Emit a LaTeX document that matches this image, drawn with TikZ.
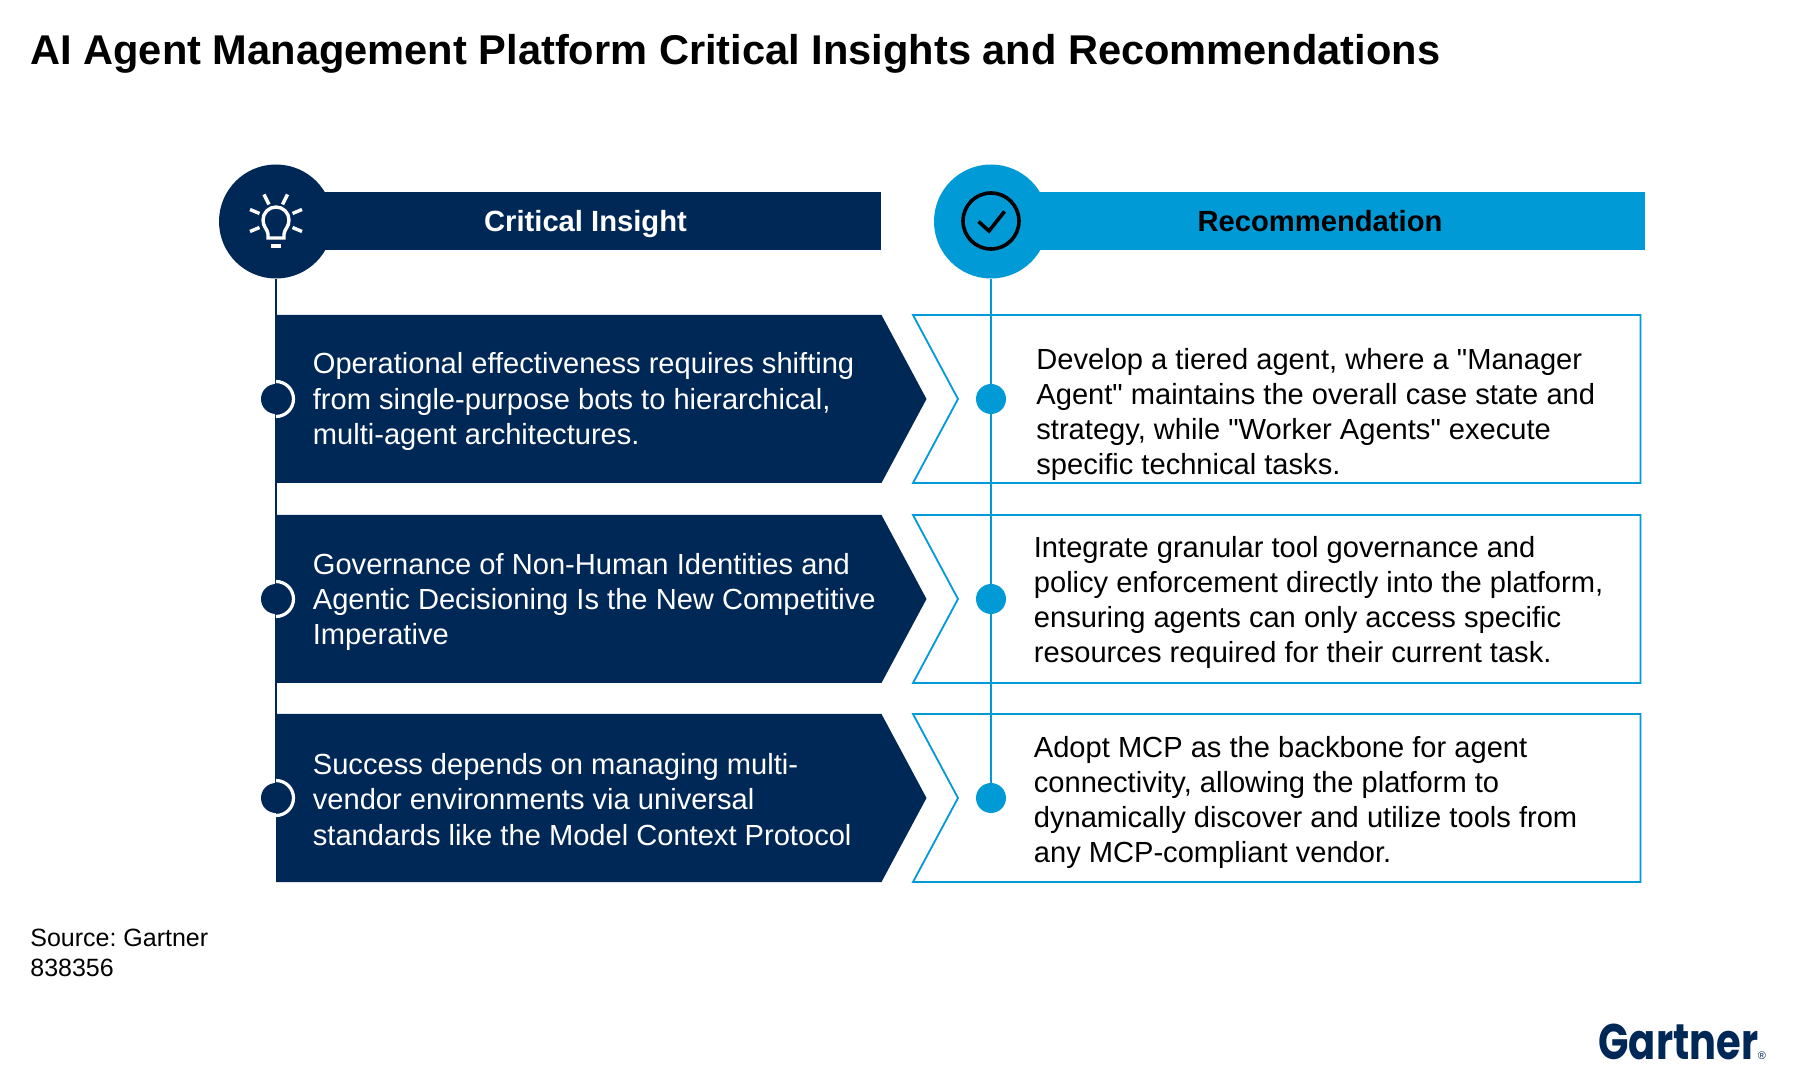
\documentclass[tikz,border=0pt]{standalone}
\usepackage{fontspec}
\setmainfont{Liberation Sans}[Ligatures=TeXOff]
\newfontfamily\logofont{Poppins}[FakeStretch=0.8]
\definecolor{navy}{HTML}{002856}
\definecolor{sky}{HTML}{009AD7}
\tikzset{
  bodytext/.style={anchor=west,align=left,inner sep=0pt,font=\fontsize{14.55pt}{17.6pt}\selectfont\frenchspacing},
  headtext/.style={anchor=base,inner sep=0pt,font=\fontsize{14.6pt}{17.6pt}\selectfont\bfseries},
  headdisc/.style={circle,minimum size=57pt,inner sep=0pt},
  dotnode/.style={circle,minimum size=15pt,inner sep=0pt},
  insightbox/.style={fill=navy},
  recbox/.style={draw=sky,line width=0.9pt,fill=white},
}
\begin{document}
\begin{tikzpicture}[x=0.5pt,y=-0.5pt]
\useasboundingbox (0,0) rectangle (1800,1079);
% title
\node[anchor=west,inner sep=0pt,font=\fontsize{20.8pt}{24pt}\selectfont\bfseries] (title) at (30,53.5) {AI Agent Management Platform Critical Insights and Recommendations};
% header bars
\fill[navy] (276,192) rectangle (881,250);
\fill[sky] (991,192) rectangle (1645,250);
% row shapes
\foreach \t in {315,515,714}{
  \fill[insightbox] (276,\t) -- (881.5,\t) -- (926.5,\t+84) -- (881.5,\t+168) -- (276,\t+168) -- cycle;
  \draw[recbox] (913,\t) -- (1640.5,\t) -- (1640.5,\t+168) -- (913,\t+168) -- (958,\t+84) -- cycle;
}
% head discs and dots
\node[headdisc,fill=navy] (headL) at (276,221.5) {};
\node[headdisc,fill=sky] (headR) at (991,221.5) {};
\node[dotnode,fill=navy] (dotLa) at (276,399) {};
\node[dotnode,fill=navy] (dotLb) at (276,599) {};
\node[dotnode,fill=navy] (dotLc) at (276,798) {};
\node[dotnode,fill=sky] (dotRa) at (991,399) {};
\node[dotnode,fill=sky] (dotRb) at (991,599) {};
\node[dotnode,fill=sky] (dotRc) at (991,798) {};
% connectors
\draw[navy,line width=1.2pt] (headL) -- (dotLc);
\draw[sky,line width=1.2pt] (headR) -- (dotRc);
% white arcs
\foreach \n in {dotLa,dotLb,dotLc}{
  \draw[white,line width=1.6pt] ([yshift=8.75pt]\n.center) arc[start angle=90,end angle=-90,radius=8.75pt];
}
% bulb icon
\begin{scope}[white,line width=1.7pt]
  \draw (268,238) -- (268,234) .. controls (267.5,229) and (263,227) .. (263,220) arc[start angle=180,end angle=360,radius=13] .. controls (289,227) and (284.5,229) .. (284,234) -- (284,238) -- cycle;
  \draw (271,246) -- (281,246);
  \draw (264,194.5) -- (269,204.5);
  \draw (287.5,194.5) -- (282.5,204.5);
  \draw (250,209.5) -- (259.5,213.5);
  \draw (250,231.5) -- (259.5,227.5);
  \draw (302,209.5) -- (292.5,213.5);
  \draw (302,231.5) -- (292.5,227.5);
\end{scope}
% check icon
\draw[black,line width=1.8pt] (991,221) circle[radius=28];
\draw[black,line width=1.8pt] (978.5,221.5) -- (989,231) -- (1004.5,211.5);
% header text
\node[headtext,text=white] (hL) at (585.5,232) {Critical Insight};
\node[headtext,text=black] (hR) at (1320,232) {Recommendation};
% left texts
\node[bodytext,text=white] (la) at (312.5,401.5) {Operational effectiveness requires shifting\\from single-purpose bots to hierarchical,\\multi-agent architectures.};
\node[bodytext,text=white] (lb) at (312.5,602) {Governance of Non-Human Identities and\\Agentic Decisioning Is the New Competitive\\Imperative};
\node[bodytext,text=white] (lc) at (312.5,799.5) {Success depends on managing multi-\\vendor environments via universal\\standards like the Model Context Protocol};
% right texts
\node[bodytext] (ra) at (1036,414.6) {Develop a tiered agent, where a "Manager\\Agent" maintains the overall case state and\\strategy, while "Worker Agents" execute\\specific technical tasks.};
\node[bodytext] (rb) at (1033.5,602.4) {Integrate granular tool governance and\\policy enforcement directly into the platform,\\ensuring agents can only access specific\\resources required for their current task.};
\node[bodytext] (rc) at (1033.5,802.3) {Adopt MCP as the backbone for agent\\connectivity, allowing the platform to\\dynamically discover and utilize tools from\\any MCP-compliant vendor.};
% source
\node[anchor=west,align=left,inner sep=0pt,font=\fontsize{12.5pt}{15pt}\selectfont\frenchspacing] (src) at (30,952.4) {Source: Gartner\\838356};
% logo
\node[anchor=base west,inner sep=0pt,text=navy,font=\logofont\fontsize{25pt}{25pt}\selectfont\bfseries] (logo) at (1598,1059) {Gartner};
\node[anchor=base west,inner sep=0pt,text=navy,font=\fontsize{5.5pt}{5.5pt}\selectfont] (reg) at ([xshift=-0.5pt]logo.base east) {®};
\end{tikzpicture}
\end{document}
